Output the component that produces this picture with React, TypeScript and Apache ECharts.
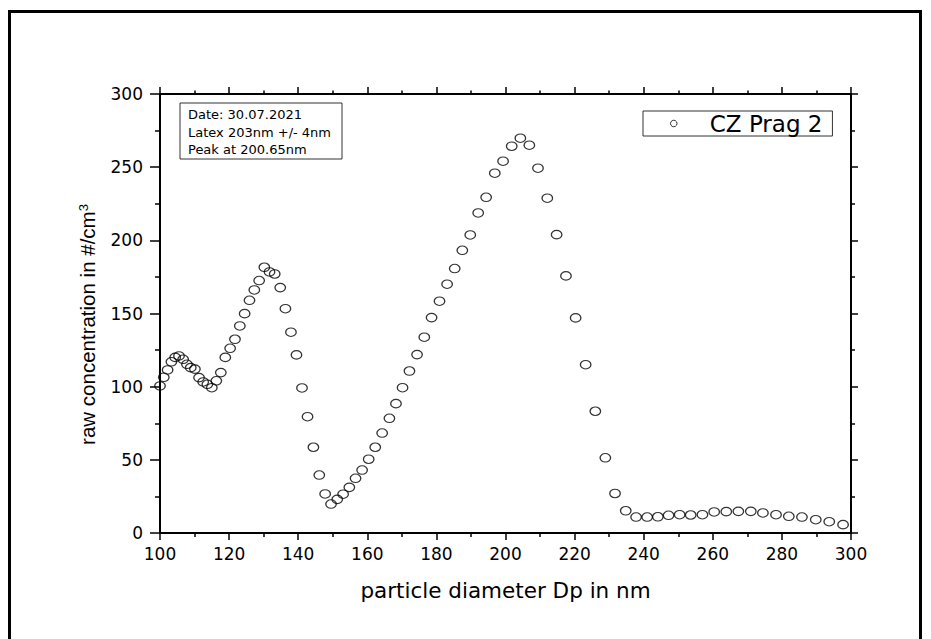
import React, { useEffect, useRef } from "react";
import * as echarts from "echarts";

const diameters = [
  100, 101.1, 102.2, 103.3, 104.4, 105.5, 106.7, 107.8, 108.9, 110.1,
  111.3, 112.5, 113.7, 115.0, 116.3, 117.6, 118.9, 120.3, 121.7, 123.1,
  124.5, 125.9, 127.3, 128.7, 130.2, 131.7, 133.2, 134.8, 136.3, 137.9,
  139.5, 141.1, 142.7, 144.4, 146.1, 147.8, 149.5, 151.3, 153.0, 154.8,
  156.6, 158.5, 160.4, 162.3, 164.3, 166.4, 168.3, 170.2, 172.2, 174.4,
  176.5, 178.6, 180.9, 183.1, 185.3, 187.5, 189.8, 192.1, 194.4, 196.9,
  199.3, 201.8, 204.3, 206.9, 209.4, 212.1, 214.8, 217.5, 220.3, 223.2,
  226.0, 228.9, 231.7, 234.8, 237.8, 241.0, 244.1, 247.2, 250.4, 253.6,
  257.0, 260.4, 263.9, 267.4, 271.0, 274.5, 278.3, 282.0, 285.8, 289.8,
  293.7, 297.7,
];

const concentrations = [
  100.5, 106.4, 111.4, 117, 120, 121, 118.7, 115.3, 113, 112,
  106.2, 103.2, 101.6, 99.3, 104, 109.6, 120, 126.2, 132.4, 141.5,
  149.9, 159, 166.1, 172.5, 181.6, 178.4, 177, 167.7, 153.3, 137.2,
  121.7, 99.1, 79.5, 58.6, 39.6, 26.7, 19.8, 23, 26.5, 31.2,
  37.4, 43, 50.4, 58.6, 68.3, 78.4, 88.4, 99.3, 110.7, 121.9,
  133.8, 147.2, 158.4, 170, 180.7, 193.2, 203.7, 218.7, 229.4, 245.9,
  254.1, 264.3, 269.8, 265, 249.3, 228.8, 203.9, 175.7, 147, 115,
  83.2, 51.4, 27, 15.2, 10.9, 10.9, 11.1, 12.1, 12.5, 12.3,
  12.5, 14.4, 14.6, 14.8, 14.8, 13.7, 12.5, 11.4, 10.9, 9.1,
  7.7, 5.7,
];

const seriesName = "CZ Prag 2";
const annotationLines = ["Date: 30.07.2021", "Latex 203nm +/- 4nm", "Peak at 200.65nm"];
const xTitle = "particle diameter Dp in nm";
const yTitle = "raw concentration in #/cm{sup|3}";
const xRange = [100, 300];
const yRange = [0, 300];

const TICK_FONT = "DejaVu Sans";

export default function App() {
  const ref = useRef<HTMLDivElement>(null);

  useEffect(() => {
    if (!ref.current) return;
    const chart = echarts.init(ref.current, undefined, { renderer: "svg" });

    const axisLine = { show: true, onZero: false, lineStyle: { color: "#000", width: 2 } };
    const data = diameters.map((d, i) => [d, concentrations[i]]);

    const option: any = {
      animation: false,
      backgroundColor: "#fff",
      grid: { left: 160, right: 80, top: 94, bottom: 106 },
      legend: {
        show: true,
        left: 643,
        top: 111,
        data: [seriesName],
        icon: "circle",
        itemWidth: 62,
        itemHeight: 6.5,
        padding: [1, 10, 1, 27],
        borderColor: "#333",
        borderWidth: 1,
        backgroundColor: "#fff",
        itemStyle: { color: "rgba(0,0,0,0)", borderColor: "#000", borderWidth: 1 },
        textStyle: { fontFamily: TICK_FONT, fontSize: 23, color: "#000" },
      },
      xAxis: [
        {
          type: "value",
          position: "bottom",
          min: xRange[0],
          max: xRange[1],
          interval: 20,
          name: xTitle,
          nameLocation: "middle",
          nameGap: 46,
          nameTextStyle: { fontFamily: TICK_FONT, fontSize: 21.5, color: "#000" },
          axisLine,
          axisTick: { show: true, length: 7, lineStyle: { color: "#000", width: 1.5 } },
          minorTick: { show: true, splitNumber: 2, length: 4, lineStyle: { color: "#000", width: 1.5 } },
          axisLabel: { fontFamily: TICK_FONT, fontSize: 17, color: "#000", margin: 12 },
          splitLine: { show: false },
        },
        {
          type: "value",
          position: "top",
          min: xRange[0],
          max: xRange[1],
          interval: 20,
          axisLine,
          axisTick: { show: true, length: 7, lineStyle: { color: "#000", width: 1.5 } },
          minorTick: { show: true, splitNumber: 2, length: 3.5, lineStyle: { color: "#000", width: 1.5 } },
          axisLabel: { show: false },
          splitLine: { show: false },
        },
      ],
      yAxis: [
        {
          type: "value",
          position: "left",
          min: yRange[0],
          max: yRange[1],
          interval: 50,
          name: yTitle,
          nameLocation: "middle",
          nameGap: 62,
          nameRotate: 90,
          nameTextStyle: {
            fontFamily: "Liberation Sans",
            fontSize: 20.5,
            color: "#000",
            padding: [0, 22, 0, 0],
            rich: {
              sup: { fontFamily: "Liberation Sans", fontSize: 13, color: "#000", verticalAlign: "top", padding: [0, 0, 6, 0] },
            },
          },
          axisLine,
          axisTick: { show: true, length: 10, lineStyle: { color: "#000", width: 1.5 } },
          minorTick: { show: true, splitNumber: 2, length: 5, lineStyle: { color: "#000", width: 1.5 } },
          axisLabel: { fontFamily: TICK_FONT, fontSize: 17, color: "#000", margin: 17 },
          splitLine: { show: false },
        },
        {
          type: "value",
          position: "right",
          min: yRange[0],
          max: yRange[1],
          interval: 50,
          axisLine,
          axisTick: { show: true, length: 7, lineStyle: { color: "#000", width: 1.5 } },
          minorTick: { show: true, splitNumber: 2, length: 4, lineStyle: { color: "#000", width: 1.5 } },
          axisLabel: { show: false },
          splitLine: { show: false },
        },
      ],
      series: [
        {
          name: seriesName,
          type: "scatter",
          xAxisIndex: 0,
          yAxisIndex: 0,
          data,
          symbol: "path://M0,10 A10,10 0 1,1 20,10 A10,10 0 1,1 0,10 Z",
          symbolSize: [10.5, 8.5],
          itemStyle: { color: "rgba(0,0,0,0)", borderColor: "#000", borderWidth: 1.2 },
          emphasis: { disabled: true },
        },
      ],
      graphic: [
        {
          type: "rect",
          silent: true,
          shape: { x: 9.5, y: 11.5, width: 911, height: 700 },
          style: { fill: "none", stroke: "#000", lineWidth: 3 },
          z: 100,
        },
        {
          type: "rect",
          silent: true,
          shape: { x: 180, y: 103, width: 162, height: 56 },
          style: { fill: "#fff", stroke: "#333", lineWidth: 1 },
          z: 50,
        },
        {
          type: "text",
          silent: true,
          x: 188,
          y: 106,
          style: {
            text: annotationLines.join("\n"),
            font: "13px 'DejaVu Sans'",
            lineHeight: 17.5,
            fill: "#000",
          },
          z: 51,
        },
      ],
    };

    chart.setOption(option);
    return () => chart.dispose();
  }, []);

  return (
    <div
      ref={ref}
      style={{ position: "fixed", left: 0, top: 0, width: 931, height: 639, background: "#fff" }}
    />
  );
}
